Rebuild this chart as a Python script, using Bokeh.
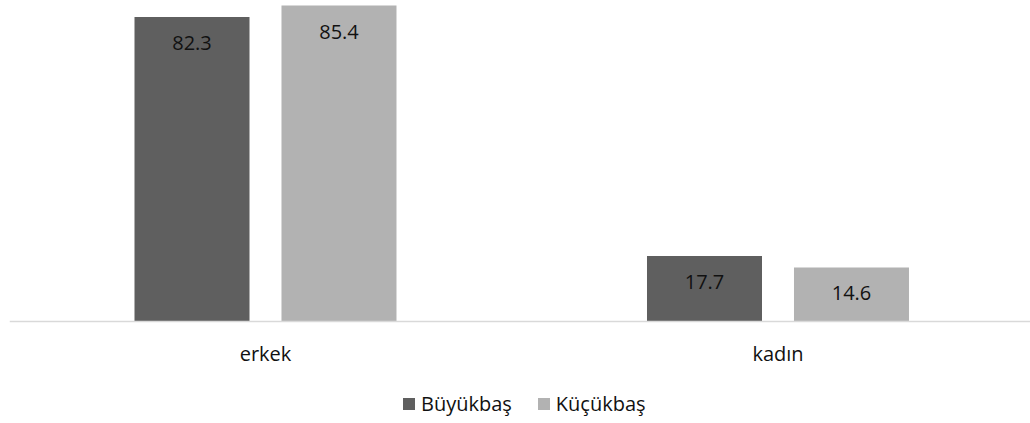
from bokeh.plotting import figure
from bokeh.models import ColumnDataSource, Range1d, FixedTicker, LabelSet, Legend, LegendItem
from bokeh.transform import dodge
from bokeh.core.properties import value
from bokeh.embed import file_html
from bokeh.resources import INLINE

categories = ["erkek", "kadın"]
series_names = ["Büyükbaş", "Küçükbaş"]
buyukbas = [82.3, 17.7]
kucukbas = [85.4, 14.6]

colors = ["#5f5f5f", "#b2b2b2"]
FONT = "Open Sans"

xs = list(range(len(categories)))
src = ColumnDataSource(data=dict(
    x=xs,
    buyukbas=buyukbas,
    kucukbas=kucukbas,
    lab_b=[f"{v:.1f}" for v in buyukbas],
    lab_k=[f"{v:.1f}" for v in kucukbas],
))

p = figure(width=1030, height=423, output_backend="svg", toolbar_location=None,
           x_range=Range1d(-0.4995, 1.4927), y_range=Range1d(-27.57, 86.76),
           min_border_left=9, min_border_right=0, min_border_top=0, min_border_bottom=0)
p.outline_line_color = None
p.xgrid.visible = False
p.ygrid.visible = False
p.yaxis.visible = False
p.background_fill_color = "white"
p.border_fill_color = "white"

bw = 0.2244
off = 0.1434
r1 = p.vbar(x=dodge("x", -off), top="buyukbas", width=bw, source=src,
            fill_color=colors[0], line_color=None)
r2 = p.vbar(x=dodge("x", off), top="kucukbas", width=bw, source=src,
            fill_color=colors[1], line_color=None)

for fld, lab, o in (("buyukbas", "lab_b", -off), ("kucukbas", "lab_k", off)):
    ls = LabelSet(x=dodge("x", o), y=fld, text=lab, source=src,
                  text_align="center", text_baseline="middle", y_offset=-26,
                  text_font=value(FONT), text_font_size=value("20px"),
                  text_color="#111111")
    p.add_layout(ls)

ax = p.xaxis[0]
ax.fixed_location = 0
ax.ticker = FixedTicker(ticks=xs)
ax.major_label_overrides = {i: c for i, c in zip(xs, categories)}
ax.major_tick_line_color = None
ax.minor_tick_line_color = None
ax.major_tick_out = 0
ax.major_tick_in = 0
ax.major_label_standoff = 19
ax.axis_line_color = "#d9d9d9"
ax.axis_line_width = 1.5
ax.major_label_text_font = FONT
ax.major_label_text_font_size = "20px"
ax.major_label_text_color = "#111111"

legend = Legend(items=[LegendItem(label=series_names[0], renderers=[r1]),
                       LegendItem(label=series_names[1], renderers=[r2])],
                orientation="horizontal", location=(392, 6),
                padding=0, margin=0, spacing=24, label_standoff=5,
                glyph_width=15, glyph_height=15, label_height=20,
                border_line_color=None, background_fill_alpha=0,
                label_text_font=FONT, label_text_font_size="20px",
                label_text_color="#111111")
p.add_layout(legend, "center")

open("out.html", "w").write(file_html(p, INLINE))
